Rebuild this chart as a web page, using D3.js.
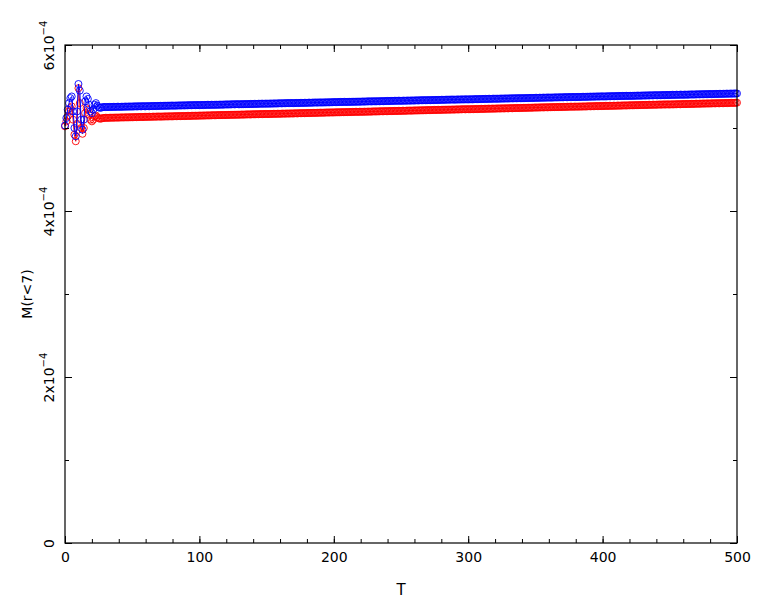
<!DOCTYPE html>
<html>
<head>
<meta charset="utf-8">
<script src="https://cdn.jsdelivr.net/npm/d3@7"></script>
<style>
html,body{margin:0;padding:0;background:#fff;}
svg{display:block;}
text{font-family:"DejaVu Sans",sans-serif;fill:#000;}
</style>
</head>
<body>
<svg id="chart" width="765" height="600"></svg>
<script>
// Values of M(r<7) in units of 1e-4, one per T step (T = 0..500)
const T = d3.range(0, 501);
const unit = 1e-4;
const xTicks = [0, 100, 200, 300, 400, 500];
const xMinor = d3.range(0, 501, 20);
const yTicks = [0, 2e-4, 4e-4, 6e-4];
const yTickLabels = [["0", ""], ["2x10", "−4"], ["4x10", "−4"], ["6x10", "−4"]];
const yMinor = [0, 1e-4, 2e-4, 3e-4, 4e-4, 5e-4, 6e-4];

const blue = [
5.03,5.12,5.22,5.30,5.36,5.38,5.20,5.00,4.90,5.20,5.53,5.45,5.10,4.98,5.10,5.32,5.38,5.35,5.28,5.20,5.18,5.22,5.28,5.30,5.27,
5.250,5.243,5.246,5.251,5.254,
5.252,5.253,5.252,5.254,5.253,5.254,5.255,5.254,5.255,5.256,
5.256,5.255,5.256,5.256,5.257,5.258,5.257,5.258,5.259,5.258,
5.259,5.259,5.261,5.260,5.260,5.262,5.261,5.261,5.263,5.262,
5.261,5.263,5.263,5.262,5.264,5.264,5.265,5.265,5.264,5.266,
5.266,5.267,5.266,5.268,5.267,5.268,5.269,5.268,5.269,5.270,
5.270,5.269,5.270,5.270,5.271,5.272,5.271,5.272,5.273,5.272,
5.273,5.273,5.275,5.274,5.274,5.276,5.275,5.275,5.277,5.276,
5.275,5.277,5.277,5.276,5.278,5.278,5.279,5.279,5.278,5.280,
5.279,5.280,5.279,5.281,5.280,5.281,5.282,5.281,5.282,5.283,
5.284,5.283,5.284,5.284,5.285,5.286,5.285,5.286,5.287,5.286,
5.286,5.286,5.288,5.287,5.287,5.289,5.288,5.288,5.290,5.289,
5.289,5.291,5.291,5.290,5.292,5.292,5.293,5.293,5.292,5.294,
5.293,5.294,5.293,5.295,5.294,5.295,5.296,5.295,5.296,5.297,
5.298,5.297,5.298,5.298,5.299,5.300,5.299,5.300,5.301,5.300,
5.300,5.300,5.302,5.301,5.301,5.303,5.302,5.302,5.304,5.303,
5.303,5.305,5.305,5.304,5.306,5.306,5.307,5.307,5.306,5.308,
5.307,5.308,5.307,5.309,5.308,5.309,5.310,5.309,5.310,5.311,
5.312,5.311,5.312,5.312,5.313,5.314,5.313,5.314,5.315,5.314,
5.314,5.314,5.316,5.315,5.315,5.317,5.316,5.316,5.318,5.317,
5.317,5.319,5.319,5.318,5.320,5.320,5.321,5.321,5.320,5.322,
5.321,5.322,5.321,5.323,5.322,5.323,5.324,5.323,5.324,5.325,
5.326,5.325,5.326,5.326,5.327,5.328,5.327,5.328,5.329,5.328,
5.328,5.328,5.330,5.329,5.329,5.331,5.330,5.330,5.332,5.331,
5.331,5.333,5.333,5.332,5.334,5.334,5.335,5.335,5.334,5.336,
5.335,5.336,5.335,5.337,5.336,5.337,5.338,5.337,5.338,5.339,
5.340,5.339,5.340,5.340,5.341,5.342,5.341,5.342,5.343,5.342,
5.342,5.342,5.344,5.343,5.343,5.345,5.344,5.344,5.346,5.345,
5.344,5.346,5.346,5.345,5.347,5.347,5.348,5.348,5.347,5.349,
5.349,5.350,5.349,5.351,5.350,5.351,5.352,5.351,5.352,5.353,
5.353,5.352,5.353,5.353,5.354,5.355,5.354,5.355,5.356,5.355,
5.356,5.356,5.358,5.357,5.357,5.359,5.358,5.358,5.360,5.359,
5.358,5.360,5.360,5.359,5.361,5.361,5.362,5.362,5.361,5.363,
5.363,5.364,5.363,5.365,5.364,5.365,5.366,5.365,5.366,5.367,
5.367,5.366,5.367,5.367,5.368,5.369,5.368,5.369,5.370,5.369,
5.370,5.370,5.372,5.371,5.371,5.373,5.372,5.372,5.374,5.373,
5.372,5.374,5.374,5.373,5.375,5.375,5.376,5.376,5.375,5.377,
5.377,5.378,5.377,5.379,5.378,5.379,5.380,5.379,5.380,5.381,
5.381,5.380,5.381,5.381,5.382,5.383,5.382,5.383,5.384,5.383,
5.384,5.384,5.386,5.385,5.385,5.387,5.386,5.386,5.388,5.387,
5.386,5.388,5.388,5.387,5.389,5.389,5.390,5.390,5.389,5.391,
5.391,5.392,5.391,5.393,5.392,5.393,5.394,5.393,5.394,5.395,
5.395,5.394,5.395,5.395,5.396,5.397,5.396,5.397,5.398,5.397,
5.398,5.398,5.400,5.399,5.399,5.401,5.400,5.400,5.402,5.401,
5.400,5.402,5.402,5.401,5.403,5.403,5.404,5.404,5.403,5.405,
5.405,5.406,5.405,5.407,5.406,5.407,5.408,5.407,5.408,5.409,
5.409,5.408,5.409,5.409,5.410,5.411,5.410,5.411,5.412,5.411,
5.412,5.412,5.414,5.413,5.413,5.415,5.414,5.414,5.416,5.415,
5.416
];

const red = [
5.02,5.08,5.14,5.20,5.24,5.26,5.10,4.92,4.84,5.05,5.48,5.30,5.00,4.93,5.00,5.18,5.24,5.22,5.16,5.10,5.08,5.10,5.14,5.15,5.13,
5.118,5.112,5.114,5.119,5.121,
5.123,5.122,5.123,5.123,5.124,5.125,5.124,5.125,5.126,5.125,
5.126,5.126,5.128,5.127,5.127,5.129,5.128,5.128,5.130,5.129,
5.129,5.131,5.131,5.130,5.132,5.132,5.133,5.133,5.132,5.134,
5.134,5.135,5.134,5.136,5.135,5.136,5.137,5.136,5.137,5.138,
5.138,5.137,5.138,5.138,5.139,5.140,5.139,5.140,5.141,5.140,
5.141,5.141,5.143,5.142,5.142,5.144,5.143,5.143,5.145,5.144,
5.144,5.146,5.146,5.145,5.147,5.147,5.148,5.148,5.147,5.149,
5.149,5.150,5.149,5.151,5.150,5.151,5.152,5.151,5.152,5.153,
5.154,5.153,5.154,5.154,5.155,5.156,5.155,5.156,5.157,5.156,
5.157,5.157,5.159,5.158,5.158,5.160,5.159,5.159,5.161,5.160,
5.160,5.162,5.162,5.161,5.163,5.163,5.164,5.164,5.163,5.165,
5.165,5.166,5.165,5.167,5.166,5.167,5.168,5.167,5.168,5.169,
5.169,5.168,5.169,5.169,5.170,5.171,5.170,5.171,5.172,5.171,
5.172,5.172,5.174,5.173,5.173,5.175,5.174,5.174,5.176,5.175,
5.175,5.177,5.177,5.176,5.178,5.178,5.179,5.179,5.178,5.180,
5.180,5.181,5.180,5.182,5.181,5.182,5.183,5.182,5.183,5.184,
5.185,5.184,5.185,5.185,5.186,5.187,5.186,5.187,5.188,5.187,
5.188,5.188,5.190,5.189,5.189,5.191,5.190,5.190,5.192,5.191,
5.191,5.193,5.193,5.192,5.194,5.194,5.195,5.195,5.194,5.196,
5.195,5.196,5.195,5.197,5.196,5.197,5.198,5.197,5.198,5.199,
5.200,5.199,5.200,5.200,5.201,5.202,5.201,5.202,5.203,5.202,
5.203,5.203,5.205,5.204,5.204,5.206,5.205,5.205,5.207,5.206,
5.206,5.208,5.208,5.207,5.209,5.209,5.210,5.210,5.209,5.211,
5.211,5.212,5.211,5.213,5.212,5.213,5.214,5.213,5.214,5.215,
5.216,5.215,5.216,5.216,5.217,5.218,5.217,5.218,5.219,5.218,
5.219,5.219,5.221,5.220,5.220,5.222,5.221,5.221,5.223,5.222,
5.222,5.224,5.224,5.223,5.225,5.225,5.226,5.226,5.225,5.227,
5.226,5.227,5.226,5.228,5.227,5.228,5.229,5.228,5.229,5.230,
5.231,5.230,5.231,5.231,5.232,5.233,5.232,5.233,5.234,5.233,
5.234,5.234,5.236,5.235,5.235,5.237,5.236,5.236,5.238,5.237,
5.237,5.239,5.239,5.238,5.240,5.240,5.241,5.241,5.240,5.242,
5.242,5.243,5.242,5.244,5.243,5.244,5.245,5.244,5.245,5.246,
5.247,5.246,5.247,5.247,5.248,5.249,5.248,5.249,5.250,5.249,
5.250,5.250,5.252,5.251,5.251,5.253,5.252,5.252,5.254,5.253,
5.253,5.255,5.255,5.254,5.256,5.256,5.257,5.257,5.256,5.258,
5.257,5.258,5.257,5.259,5.258,5.259,5.260,5.259,5.260,5.261,
5.262,5.261,5.262,5.262,5.263,5.264,5.263,5.264,5.265,5.264,
5.265,5.265,5.267,5.266,5.266,5.268,5.267,5.267,5.269,5.268,
5.268,5.270,5.270,5.269,5.271,5.271,5.272,5.272,5.271,5.273,
5.273,5.274,5.273,5.275,5.274,5.275,5.276,5.275,5.276,5.277,
5.278,5.277,5.278,5.278,5.279,5.280,5.279,5.280,5.281,5.280,
5.281,5.281,5.283,5.282,5.282,5.284,5.283,5.283,5.285,5.284,
5.283,5.285,5.285,5.284,5.286,5.286,5.287,5.287,5.286,5.288,
5.288,5.289,5.288,5.290,5.289,5.290,5.291,5.290,5.291,5.292,
5.293,5.292,5.293,5.293,5.294,5.295,5.294,5.295,5.296,5.295,
5.296,5.296,5.298,5.297,5.297,5.299,5.298,5.298,5.300,5.299,
5.299,5.301,5.301,5.300,5.302,5.302,5.303,5.303,5.302,5.304,
5.305
];

const series = [
  {name: "red", color: "#ff0000", values: red},
  {name: "blue", color: "#0000ff", values: blue}
];

const L = 65, R = 737, TOP = 45, B = 543;
const svg = d3.select("#chart");
const x = d3.scaleLinear().domain([0, 500]).range([L, R]);
const y = d3.scaleLinear().domain([0, 6e-4]).range([B, TOP]);

// data
const plot = svg.append("g");
series.forEach(s => {
  const pts = T.map((t, i) => [t, s.values[i] * unit]);
  plot.append("path")
    .datum(pts)
    .attr("fill", "none")
    .attr("stroke", s.color)
    .attr("stroke-width", 1)
    .attr("d", d3.line().x(d => x(d[0])).y(d => y(d[1])));
  plot.append("g").selectAll("circle")
    .data(pts).join("circle")
    .attr("cx", d => x(d[0]))
    .attr("cy", d => y(d[1]))
    .attr("r", 3.5)
    .attr("fill", "none")
    .attr("stroke", s.color)
    .attr("stroke-width", 0.9);
});

// axes (ticks inward on all four sides)
function styleAxis(g) {
  g.select(".domain").remove();
  g.selectAll(".tick line").attr("stroke", "#000").attr("stroke-width", 1);
}
const major = 7, minor = 4;
svg.append("g").attr("transform", `translate(0,${B})`)
  .call(d3.axisBottom(x).tickValues(xMinor).tickSize(-minor).tickFormat(""))
  .call(styleAxis);
svg.append("g").attr("transform", `translate(0,${TOP})`)
  .call(d3.axisTop(x).tickValues(xMinor).tickSize(-minor).tickFormat(""))
  .call(styleAxis);
svg.append("g").attr("transform", `translate(${L},0)`)
  .call(d3.axisLeft(y).tickValues(yMinor).tickSize(-minor).tickFormat(""))
  .call(styleAxis);
svg.append("g").attr("transform", `translate(${R},0)`)
  .call(d3.axisRight(y).tickValues(yMinor).tickSize(-minor).tickFormat(""))
  .call(styleAxis);

const xb = svg.append("g").attr("transform", `translate(0,${B})`)
  .call(d3.axisBottom(x).tickValues(xTicks).tickSize(-major).tickPadding(9).tickFormat(d3.format("d")))
  .call(styleAxis);
xb.selectAll(".tick text").attr("font-family", "DejaVu Sans").attr("font-size", 14).attr("fill", "#000");
svg.append("g").attr("transform", `translate(0,${TOP})`)
  .call(d3.axisTop(x).tickValues(xTicks).tickSize(-major).tickFormat(""))
  .call(styleAxis);
const yl = svg.append("g").attr("transform", `translate(${L},0)`)
  .call(d3.axisLeft(y).tickValues(yTicks).tickSize(-major).tickFormat(""))
  .call(styleAxis);
svg.append("g").attr("transform", `translate(${R},0)`)
  .call(d3.axisRight(y).tickValues(yTicks).tickSize(-major).tickFormat(""))
  .call(styleAxis);

// rotated y tick labels with superscript exponent
yl.selectAll(".tick").each(function(d, i) {
  const lab = yTickLabels[i];
  const t = d3.select(this).append("text")
    .attr("transform", "translate(-11,0) rotate(-90)")
    .attr("text-anchor", "middle")
    .attr("font-size", 14)
    .attr("font-family", "DejaVu Sans")
    .attr("fill", "#000");
  t.append("tspan").text(lab[0]);
  if (lab[1]) t.append("tspan").attr("dy", -7).attr("font-size", 10).text(lab[1]);
});

// frame
svg.append("rect")
  .attr("x", L).attr("y", TOP).attr("width", R - L).attr("height", B - TOP)
  .attr("fill", "none").attr("stroke", "#000").attr("stroke-width", 1.2);

// axis titles
svg.append("text")
  .attr("transform", `translate(32,${(TOP + B) / 2}) rotate(-90)`)
  .attr("text-anchor", "middle")
  .attr("font-size", 14)
  .text("M(r<7)");
svg.append("text")
  .attr("x", (L + R) / 2).attr("y", 595)
  .attr("text-anchor", "middle")
  .attr("font-size", 15)
  .text("T");
</script>
</body>
</html>
